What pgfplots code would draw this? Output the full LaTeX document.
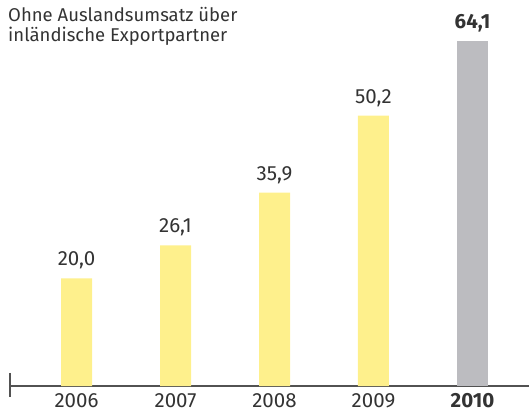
\documentclass[border=0pt]{standalone}
\usepackage{fontspec}
\setmainfont{Fira Sans}
\usepackage{pgfplots}
\pgfplotsset{compat=1.18}
\definecolor{barY}{HTML}{FEF08C}
\definecolor{barG}{HTML}{BCBCC0}
\definecolor{txt}{HTML}{333333}
\begin{document}
\begin{tikzpicture}
\useasboundingbox (0,0) rectangle (529bp,412bp);
\begin{axis}[at={(10bp,26bp)}, anchor=south west, scale only axis,
  width=519bp, height=386bp,
  xmin=-0.672, xmax=4.571, ymin=0, ymax=71.7,
  hide y axis, axis x line*=bottom,
  axis line style={draw=txt!85, line width=1.2bp, -},
  xtick={0,1,2,3,4}, xticklabels={2006,2007,2008,2009,\textbf{2010}},
  xtick style={draw=none}, major tick length=0pt,
  xticklabel style={anchor=base, yshift=-21bp, inner sep=0pt, font=\fontsize{20.5bp}{22bp}\selectfont, text=txt},
  ybar, bar width=31bp, bar shift=0pt,
  /pgf/number format/assume math mode=true,
  nodes near coords={\pgfmathprintnumber[fixed,fixed zerofill,precision=1,use comma]{\pgfplotspointmeta}},
  nodes near coords style={anchor=base, yshift=12.5bp, inner sep=0pt, font=\fontsize{20.5bp}{22bp}\selectfont, text=txt},
  clip=false]
\addplot[fill=barY, draw=none, bar shift=0pt] coordinates {(0,20.0) (1,26.1) (2,35.9) (3,50.2)};
\addplot[fill=barG, draw=none, bar shift=0pt,
  nodes near coords style={font=\fontsize{20.5bp}{22bp}\selectfont\bfseries}] coordinates {(4,64.1)};
\draw[txt!85, line width=1.2bp] ([yshift=13bp]axis cs:-0.672,0) -- ([yshift=-11bp]axis cs:-0.672,0);
\end{axis}
\node[anchor=base west, inner sep=0pt, text=txt, font=\fontsize{18.5bp}{22bp}\selectfont] at (8bp,390bp) {Ohne Auslandsumsatz über};
\node[anchor=base west, inner sep=0pt, text=txt, font=\fontsize{18.5bp}{22bp}\selectfont] at (8bp,370bp) {inländische Exportpartner};
\end{tikzpicture}
\end{document}
